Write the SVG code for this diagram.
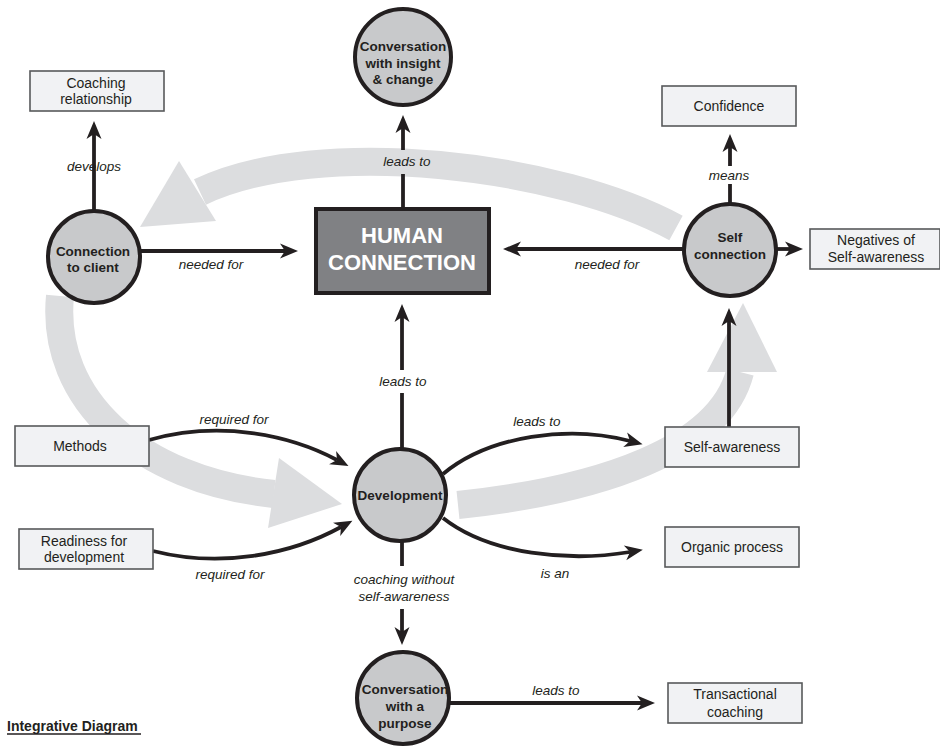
<svg xmlns="http://www.w3.org/2000/svg" width="940" height="749" viewBox="0 0 940 749">
<style>
.band{fill:none;stroke:#dcdddf;stroke-width:28;stroke-linecap:butt}
.bandhead{fill:#dcdddf}
.c{fill:none;stroke:#231f20;stroke-width:3.8}
.box{fill:#f1f2f4;stroke:#58595b;stroke-width:1.6}
.circ{fill:#c8c9cb;stroke:#231f20;stroke-width:4}
.bt{font-family:"Liberation Sans",Arial,sans-serif;font-size:14px;fill:#231f20;text-anchor:middle}
.ct{font-family:"Liberation Sans",Arial,sans-serif;font-size:13.5px;font-weight:bold;fill:#231f20;text-anchor:middle}
.lt{font-family:"Liberation Sans",Arial,sans-serif;font-size:13.5px;font-style:italic;fill:#231f20;text-anchor:middle}
</style>
<defs>
<marker id="ah" viewBox="-7 -9 21 18" refX="0" refY="0" markerWidth="21" markerHeight="18" markerUnits="userSpaceOnUse" orient="auto">
<path d="M13,0 L-5,-7.5 L0,0 L-5,7.5 Z" fill="#231f20"/>
</marker>
</defs>

<g id="bands">
<path class="band" d="M676 228 C560 165 320 135 200 192"/>
<polygon class="bandhead" points="140,227 179,161 216,221"/>
<path class="band" d="M60 296 C50 400 140 480 274 494"/>
<polygon class="bandhead" points="342,504 279,458 268,528"/>
<path class="band" d="M458 505 C600 490 720 450 740 372"/>
<polygon class="bandhead" points="743,303 707,372 777,372"/>
</g>

<g id="connectors">
<path class="c" d="M94 211 L94 134" marker-end="url(#ah)"/>
<text class="lt" x="94" y="171">develops</text>
<path class="c" d="M140 251 L285 251" marker-end="url(#ah)"/>
<text class="lt" x="211" y="269">needed for</text>
<path class="c" d="M403 209 L403 174"/>
<path class="c" d="M403 150 L403 128" marker-end="url(#ah)"/>
<text class="lt" x="407" y="166">leads to</text>
<path class="c" d="M730 203 L730 184"/>
<path class="c" d="M730 166 L730 147" marker-end="url(#ah)"/>
<text class="lt" x="729" y="180">means</text>
<path class="c" d="M684 249 L516 249" marker-end="url(#ah)"/>
<text class="lt" x="607" y="269">needed for</text>
<path class="c" d="M776 249 L790 249" marker-end="url(#ah)"/>
<path class="c" d="M402 449 L402 393"/>
<path class="c" d="M402 370 L402 317" marker-end="url(#ah)"/>
<text class="lt" x="403" y="386">leads to</text>
<path class="c" d="M149 440 C220 420 290 435 337 460" marker-end="url(#ah)"/>
<text class="lt" x="234" y="424">required for</text>
<path class="c" d="M153 551 C220 568 290 555 341 527" marker-end="url(#ah)"/>
<text class="lt" x="230" y="579">required for</text>
<path class="c" d="M443 474 C490 435 570 425 630 441" marker-end="url(#ah)"/>
<text class="lt" x="537" y="426">leads to</text>
<path class="c" d="M443 518 C490 555 570 562 630 552" marker-end="url(#ah)"/>
<text class="lt" x="555" y="578">is an</text>
<path class="c" d="M729 427 L729 321" marker-end="url(#ah)"/>
<path class="c" d="M402 541 L402 566"/>
<text class="lt" x="404" y="584">coaching without</text>
<text class="lt" x="404" y="601">self-awareness</text>
<path class="c" d="M402 609 L402 632" marker-end="url(#ah)"/>
<path class="c" d="M448 703 L642 703" marker-end="url(#ah)"/>
<text class="lt" x="556" y="695">leads to</text>
</g>

<g id="coaching-relationship">
<rect class="box" x="30" y="71" width="134" height="40"/>
<text class="bt" x="96" y="88">Coaching</text>
<text class="bt" x="96" y="104">relationship</text>
</g>
<g id="conversation-insight">
<circle class="circ" cx="403" cy="57" r="48"/>
<text class="ct" x="403" y="51">Conversation</text>
<text class="ct" x="403" y="68">with insight</text>
<text class="ct" x="403" y="84">&amp; change</text>
</g>
<g id="human-connection">
<rect x="316" y="209" width="173" height="84" fill="#808184" stroke="#231f20" stroke-width="4"/>
<text x="402" y="243" font-family="'Liberation Sans',Arial,sans-serif" font-size="22" font-weight="bold" fill="#ffffff" text-anchor="middle">HUMAN</text>
<text x="402" y="270" font-family="'Liberation Sans',Arial,sans-serif" font-size="22" font-weight="bold" fill="#ffffff" text-anchor="middle">CONNECTION</text>
</g>
<g id="connection-to-client">
<circle class="circ" cx="94" cy="257" r="46"/>
<text class="ct" x="93" y="256">Connection</text>
<text class="ct" x="93" y="272">to client</text>
</g>
<g id="self-connection">
<circle class="circ" cx="730" cy="250" r="46"/>
<text class="ct" x="730" y="242">Self</text>
<text class="ct" x="730" y="259">connection</text>
</g>
<g id="confidence">
<rect class="box" x="662" y="86" width="134" height="40"/>
<text class="bt" x="729" y="111">Confidence</text>
</g>
<g id="negatives">
<rect class="box" x="810" y="229" width="130" height="40"/>
<text class="bt" x="876" y="245">Negatives of</text>
<text class="bt" x="876" y="262">Self-awareness</text>
</g>
<g id="methods">
<rect class="box" x="15" y="426" width="134" height="40"/>
<text class="bt" x="80" y="451">Methods</text>
</g>
<g id="readiness">
<rect class="box" x="19" y="529" width="134" height="40"/>
<text class="bt" x="84" y="546">Readiness for</text>
<text class="bt" x="84" y="562">development</text>
</g>
<g id="development">
<circle class="circ" cx="400" cy="495" r="46"/>
<text class="ct" x="400" y="500">Development</text>
</g>
<g id="self-awareness">
<rect class="box" x="665" y="427" width="134" height="40"/>
<text class="bt" x="732" y="452">Self-awareness</text>
</g>
<g id="organic-process">
<rect class="box" x="665" y="527" width="134" height="40"/>
<text class="bt" x="732" y="552">Organic process</text>
</g>
<g id="conversation-purpose">
<circle class="circ" cx="403" cy="698" r="46"/>
<text class="ct" x="405" y="694">Conversation</text>
<text class="ct" x="405" y="711">with a</text>
<text class="ct" x="405" y="728">purpose</text>
</g>
<g id="transactional">
<rect class="box" x="668" y="683" width="134" height="40"/>
<text class="bt" x="735" y="699">Transactional</text>
<text class="bt" x="735" y="717">coaching</text>
</g>
<g id="title">
<text x="7" y="731" font-family="'Liberation Sans',Arial,sans-serif" font-size="14" font-weight="bold" fill="#231f20">Integrative Diagram</text>
<line x1="7" y1="734" x2="141" y2="734" stroke="#231f20" stroke-width="1.3"/>
</g>
</svg>
